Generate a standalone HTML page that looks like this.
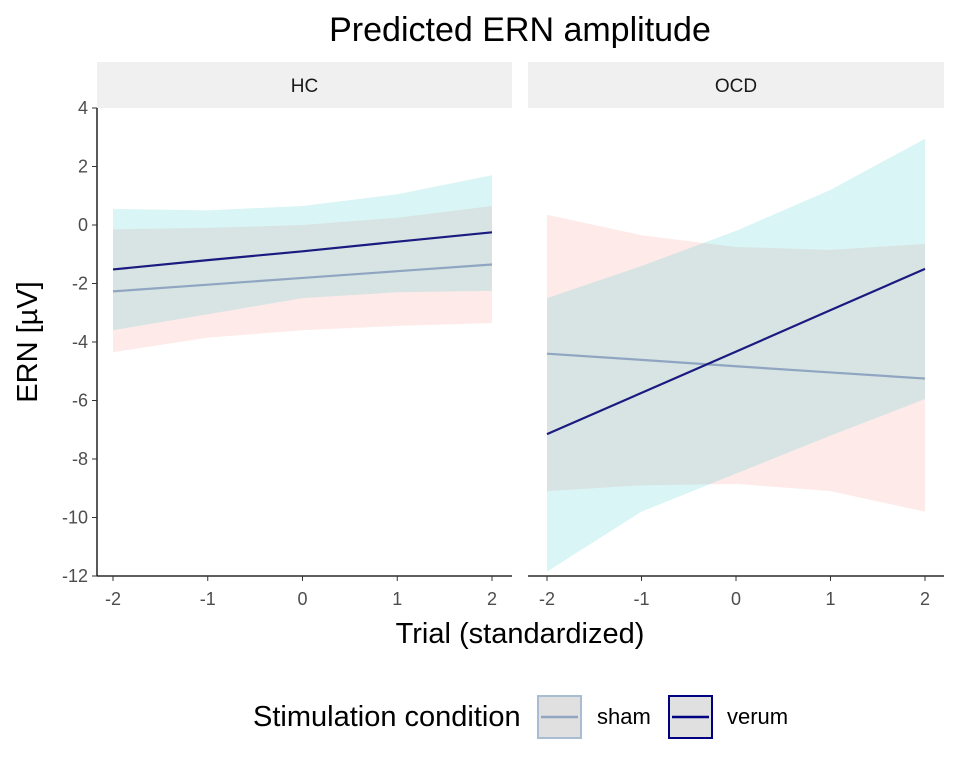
<!DOCTYPE html>
<html><head><meta charset="utf-8"><style>
body{margin:0;background:#fff;font-family:"Liberation Sans",Arial,sans-serif}
svg text{font-family:"Liberation Sans",Arial,sans-serif}
</style></head><body>
<svg id="chart" width="960" height="768">
<text x="520" y="41" font-size="34" text-anchor="middle">Predicted ERN amplitude</text>
<g id="panels"></g>
<text x="520" y="643" font-size="29" text-anchor="middle">Trial (standardized)</text>
<text transform="translate(37,342) rotate(-90)" font-size="29" text-anchor="middle">ERN [µV]</text>
<g>
<text x="253" y="726" font-size="29">Stimulation condition</text>
<g>
<rect x="538" y="696" width="43" height="42" fill="#e0e0e0" stroke="#a9bcd2" stroke-width="2"/>
<line x1="541" y1="717" x2="578" y2="717" stroke="#8fa5c1" stroke-width="2.5"/>
<text x="597" y="724" font-size="22">sham</text></g>
<g>
<rect x="669" y="696" width="43" height="42" fill="#e0e0e0" stroke="#000080" stroke-width="2"/>
<line x1="672" y1="717" x2="709" y2="717" stroke="#000080" stroke-width="2.5"/>
<text x="727" y="724" font-size="22">verum</text></g>
</g>
</svg>
<script>
const xTicks=[-2,-1,0,1,2];
const yTicks=[4,2,0,-2,-4,-6,-8,-10,-12];
const facets=["HC","OCD"];
const trial=[-2,-1,0,1,2];
const hcVerumMean=[-1.52,-1.2,-0.9,-0.57,-0.25];
const hcVerumUpper=[0.55,0.5,0.65,1.05,1.7];
const hcVerumLower=[-3.6,-3.05,-2.5,-2.3,-2.25];
const hcShamMean=[-2.27,-2.04,-1.81,-1.58,-1.35];
const hcShamUpper=[-0.15,-0.1,0.0,0.25,0.65];
const hcShamLower=[-4.35,-3.85,-3.6,-3.45,-3.35];
const ocdVerumMean=[-7.15,-5.74,-4.33,-2.91,-1.5];
const ocdVerumUpper=[-2.5,-1.4,-0.2,1.2,2.95];
const ocdVerumLower=[-11.85,-9.8,-8.5,-7.2,-5.95];
const ocdShamMean=[-4.4,-4.61,-4.83,-5.04,-5.25];
const ocdShamUpper=[0.35,-0.35,-0.75,-0.85,-0.65];
const ocdShamLower=[-9.1,-8.9,-8.85,-9.1,-9.8];
const series=[
 {verum:[hcVerumMean,hcVerumUpper,hcVerumLower],sham:[hcShamMean,hcShamUpper,hcShamLower]},
 {verum:[ocdVerumMean,ocdVerumUpper,ocdVerumLower],sham:[ocdShamMean,ocdShamUpper,ocdShamLower]}];
const NS="http://www.w3.org/2000/svg";
const g=document.getElementById('panels');
function mk(t,a,p){const e=document.createElementNS(NS,t);for(const k in a)e.setAttribute(k,a[k]);(p||g).appendChild(e);return e;}
const yTop=108,yBot=576;
function y(v){return yTop+(4-v)/16*(yBot-yTop);}
const panels=[{l:97,r:512,x0:113,x1:492},{l:528,r:944,x0:547,x1:925}];
panels.forEach((P,i)=>{
 const x=v=>P.x0+(v+2)/4*(P.x1-P.x0);
 const pg=mk('g',{});
 
 
 const s=mk('rect',{x:P.l,y:62,width:P.r-P.l,height:46,fill:'#f0f0f0'},pg);
 
 
 const st=mk('text',{x:(P.l+P.r)/2,y:92,'font-size':19,'text-anchor':'middle',fill:'#1a1a1a'},pg);
 st.textContent=facets[i];
 
 
 [['sham','#F8766D'],['verum','#00BFC4']].forEach(([k,c])=>{
  const [m,u,lo]=series[i][k];
  let d=trial.map((t,j)=>(j?'L':'M')+x(t)+','+y(u[j])).join('');
  d+=trial.slice().reverse().map((t,j)=>'L'+x(t)+','+y(lo[trial.length-1-j])).join('')+'Z';
  const r=mk('path',{d,fill:c,'fill-opacity':0.15},pg);
  
  
 });
 [['sham','#8fa5c1'],['verum','#1a1a80']].forEach(([k,c])=>{
  const m=series[i][k][0];
  const l=mk('polyline',{points:trial.map((t,j)=>x(t)+','+y(m[j])).join(' '),fill:'none',stroke:c,'stroke-width':2.2},pg);
  
  
 });
 mk('line',{x1:P.l,y1:yBot,x2:P.r,y2:yBot,stroke:'#000','stroke-width':1.3},pg);
 xTicks.forEach(t=>{
  mk('line',{x1:x(t),y1:yBot,x2:x(t),y2:yBot+5,stroke:'#333'},pg);
  const tx=mk('text',{x:x(t),y:yBot+29,'font-size':18,'text-anchor':'middle',fill:'#4d4d4d'},pg);
  tx.textContent=t;
  
  
 });
 if(i==0){
  mk('line',{x1:P.l,y1:yTop,x2:P.l,y2:yBot,stroke:'#000','stroke-width':1.3},pg);
  yTicks.forEach(t=>{
   mk('line',{x1:P.l-5,y1:y(t),x2:P.l,y2:y(t),stroke:'#333'},pg);
   const tx=mk('text',{x:P.l-9,y:y(t)+6,'font-size':18,'text-anchor':'end',fill:'#4d4d4d'},pg);
   tx.textContent=t;
   
   
  });
 }
});
</script>
</body></html>
